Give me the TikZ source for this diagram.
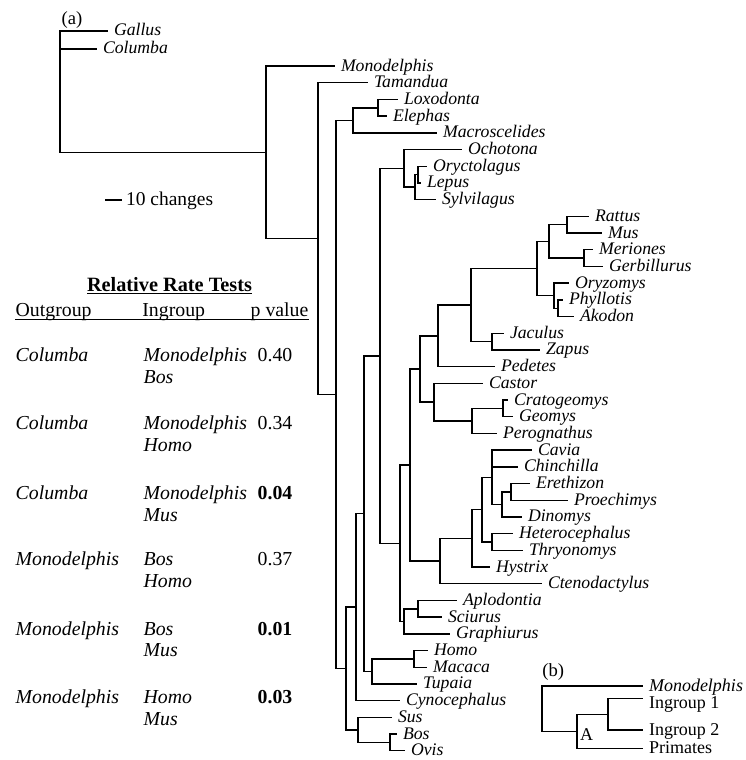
\documentclass[tikz,border=0pt]{standalone}
\usepackage{fontspec}
\setmainfont{Liberation Serif}

\begin{document}
\begin{tikzpicture}[x=1pt,y=-1pt,line width=1.4pt,
    taxon/.style={font=\fontsize{17.7}{20}\selectfont\itshape,anchor=west,inner xsep=6pt,inner ysep=0pt,outer sep=0pt,text height=10pt,text depth=0pt},
    tiplabel/.style={taxon,font=\fontsize{18}{20}\selectfont},
    rowtext/.style={font=\fontsize{19.8}{22}\selectfont,anchor=base west,inner sep=0pt}]
    \useasboundingbox (0,0) rectangle (745,760);
    % (a) tree
    \node[rowtext,font=\fontsize{18.6}{20}\selectfont] (panela) at (61,25) {(a)};
    \node[taxon] (gallus) at (108,31) {Gallus};
    \node[taxon] (columba) at (97,49) {Columba};
    \node[taxon] (monodelphis) at (335,66) {Monodelphis};
    \node[taxon] (tamandua) at (368,82.7) {Tamandua};
    \node[taxon] (loxodonta) at (398,99.4) {Loxodonta};
    \node[taxon] (elephas) at (387,116.1) {Elephas};
    \node[taxon] (macroscelides) at (437,132.8) {Macroscelides};
    \node[taxon] (ochotona) at (462,149.5) {Ochotona};
    \node[taxon] (oryctolagus) at (427,166.2) {Oryctolagus};
    \node[taxon] (lepus) at (421,182.9) {Lepus};
    \node[taxon] (sylvilagus) at (436,199.6) {Sylvilagus};
    \node[taxon] (rattus) at (589,216.3) {Rattus};
    \node[taxon] (mus) at (602,233) {Mus};
    \node[taxon] (meriones) at (593,249.7) {Meriones};
    \node[taxon] (gerbillurus) at (603,266.4) {Gerbillurus};
    \node[taxon] (oryzomys) at (569,283.1) {Oryzomys};
    \node[taxon] (phyllotis) at (563,299.8) {Phyllotis};
    \node[taxon] (akodon) at (574,316.5) {Akodon};
    \node[taxon] (jaculus) at (504,333.2) {Jaculus};
    \node[taxon] (zapus) at (540,349.9) {Zapus};
    \node[taxon] (pedetes) at (495,366.6) {Pedetes};
    \node[taxon] (castor) at (483,383.3) {Castor};
    \node[taxon] (cratogeomys) at (508,400) {Cratogeomys};
    \node[taxon] (geomys) at (513,416.7) {Geomys};
    \node[taxon] (perognathus) at (497,433.4) {Perognathus};
    \node[taxon] (cavia) at (532,450.1) {Cavia};
    \node[taxon] (chinchilla) at (518,466.8) {Chinchilla};
    \node[taxon] (erethizon) at (530,483.5) {Erethizon};
    \node[taxon] (proechimys) at (568,500.2) {Proechimys};
    \node[taxon] (dinomys) at (522,516.9) {Dinomys};
    \node[taxon] (heterocephalus) at (513,533.6) {Heterocephalus};
    \node[taxon] (thryonomys) at (523,550.3) {Thryonomys};
    \node[taxon] (hystrix) at (490,567) {Hystrix};
    \node[taxon] (ctenodactylus) at (542,583.7) {Ctenodactylus};
    \node[taxon] (aplodontia) at (457,600.4) {Aplodontia};
    \node[taxon] (sciurus) at (442,617.1) {Sciurus};
    \node[taxon] (graphiurus) at (450,633.8) {Graphiurus};
    \node[taxon] (homo) at (428,650.5) {Homo};
    \node[taxon] (macaca) at (427,667.2) {Macaca};
    \node[taxon] (tupaia) at (417,683.9) {Tupaia};
    \node[taxon] (cynocephalus) at (400,700.6) {Cynocephalus};
    \node[taxon] (sus) at (392,717.3) {Sus};
    \node[taxon] (bos) at (397,734) {Bos};
    \node[taxon] (ovis) at (405,750.7) {Ovis};
    % internal nodes
    \coordinate (root) at (60,91);
    \coordinate (mammalia) at (266,152.3);
    \coordinate (eutheria) at (318,238.6);
    \coordinate (placental) at (336,394.4);
    \coordinate (afro) at (353,120.3);
    \coordinate (elephantid) at (378,107.8);
    \coordinate (boreo) at (346,668.5);
    \coordinate (artio) at (358,730);
    \coordinate (bovid) at (390,742.4);
    \coordinate (euarch) at (356,607.1);
    \coordinate (supra) at (364,513.6);
    \coordinate (primtup) at (372,671.4);
    \coordinate (primates) at (414,658.9);
    \coordinate (glires) at (380,355.8);
    \coordinate (lago) at (404,168.3);
    \coordinate (leporid) at (415,187.1);
    \coordinate (oryle) at (418,174.6);
    \coordinate (rodentia) at (400,543.2);
    \coordinate (sciuro) at (404,621.3);
    \coordinate (aplsci) at (418,608.8);
    \coordinate (rodcore) at (410,465);
    \coordinate (castormouse) at (420,369);
    \coordinate (myopedetes) at (438,335.8);
    \coordinate (myodonta) at (471,305.1);
    \coordinate (muroid) at (537,268.5);
    \coordinate (murinae) at (549,241.4);
    \coordinate (ratmus) at (567,224.7);
    \coordinate (gerbil) at (584,258.1);
    \coordinate (sigmo) at (554,295.7);
    \coordinate (phylak) at (558,308.2);
    \coordinate (dipodid) at (492,341.6);
    \coordinate (castorimorph) at (434,402.1);
    \coordinate (geomyoid) at (472,420.9);
    \coordinate (geomyid) at (503,408.4);
    \coordinate (ctenohys) at (440,561);
    \coordinate (hystricid) at (472,538.3);
    \coordinate (hystricog) at (482,509.6);
    \coordinate (cavio) at (492,477.3);
    \coordinate (octodont) at (502,504.4);
    \coordinate (erepro) at (511,491.9);
    \coordinate (phiom) at (492,542);
    % branches
    \draw (root) |- (gallus) (root) |- (columba) (root) |- (mammalia);
    \draw (mammalia) |- (monodelphis) (mammalia) |- (eutheria);
    \draw (eutheria) |- (tamandua) (eutheria) |- (placental);
    \draw (placental) |- (afro) (placental) |- (boreo);
    \draw (afro) |- (elephantid) (afro) |- (macroscelides);
    \draw (elephantid) |- (loxodonta) (elephantid) |- (elephas);
    \draw (boreo) |- (euarch) (boreo) |- (artio);
    \draw (artio) |- (sus) (artio) |- (bovid);
    \draw (bovid) |- (bos) (bovid) |- (ovis);
    \draw (euarch) |- (supra) (euarch) |- (cynocephalus);
    \draw (supra) |- (glires) (supra) |- (primtup);
    \draw (primtup) |- (primates) (primtup) |- (tupaia);
    \draw (primates) |- (homo) (primates) |- (macaca);
    \draw (glires) |- (lago) (glires) |- (rodentia);
    \draw (lago) |- (ochotona) (lago) |- (leporid);
    \draw (leporid) |- (oryle) (leporid) |- (sylvilagus);
    \draw (oryle) |- (oryctolagus) (oryle) |- (lepus);
    \draw (rodentia) |- (rodcore) (rodentia) |- (sciuro);
    \draw (sciuro) |- (aplsci) (sciuro) |- (graphiurus);
    \draw (aplsci) |- (aplodontia) (aplsci) |- (sciurus);
    \draw (rodcore) |- (castormouse) (rodcore) |- (ctenohys);
    \draw (castormouse) |- (myopedetes) (castormouse) |- (castorimorph);
    \draw (myopedetes) |- (myodonta) (myopedetes) |- (pedetes);
    \draw (myodonta) |- (muroid) (myodonta) |- (dipodid);
    \draw (muroid) |- (murinae) (muroid) |- (sigmo);
    \draw (murinae) |- (ratmus) (murinae) |- (gerbil);
    \draw (ratmus) |- (rattus) (ratmus) |- (mus);
    \draw (gerbil) |- (meriones) (gerbil) |- (gerbillurus);
    \draw (sigmo) |- (oryzomys) (sigmo) |- (phylak);
    \draw (phylak) |- (phyllotis) (phylak) |- (akodon);
    \draw (dipodid) |- (jaculus) (dipodid) |- (zapus);
    \draw (castorimorph) |- (castor) (castorimorph) |- (geomyoid);
    \draw (geomyoid) |- (geomyid) (geomyoid) |- (perognathus);
    \draw (geomyid) |- (cratogeomys) (geomyid) |- (geomys);
    \draw (ctenohys) |- (hystricid) (ctenohys) |- (ctenodactylus);
    \draw (hystricid) |- (hystricog) (hystricid) |- (hystrix);
    \draw (hystricog) |- (cavio) (hystricog) |- (phiom);
    \draw (cavio) |- (cavia) (cavio) |- (chinchilla) (cavio) |- (octodont);
    \draw (octodont) |- (erepro) (octodont) |- (dinomys);
    \draw (erepro) |- (erethizon) (erepro) |- (proechimys);
    \draw (phiom) |- (heterocephalus) (phiom) |- (thryonomys);
    % scale bar
    \coordinate (bar) at (105,200);
    \node[tiplabel,inner xsep=4pt,font=\fontsize{19.5}{22}\selectfont] (changes) at (122,200) {10 changes};
    \draw (bar) -- (changes);
    % relative rate tests
    \node[rowtext,anchor=base,font=\fontsize{20.3}{22}\selectfont\bfseries] (title) at (169.5,291.7) {\underline{Relative Rate Tests}};
    \node[rowtext] (hdrout) at (15,316.7) {Outgroup};
    \node[rowtext] (hdrin) at (141.7,316.7) {Ingroup};
    \node[rowtext] (hdrp) at (250,316.7) {p value};
    \draw[line width=1pt] ([yshift=-2.7pt]hdrout.base west) -- ([yshift=-2.7pt]hdrp.base east);
    \node[rowtext] (out1) at (15,361.7) {\itshape Columba};
    \node[rowtext] (ina1) at (143,361.7) {\itshape Monodelphis};
    \node[rowtext] (inb1) at (143,383.4) {\itshape Bos};
    \node[rowtext] (pv1) at (257,361.7) {0.40};
    \node[rowtext] (out2) at (15,429.5) {\itshape Columba};
    \node[rowtext] (ina2) at (143,429.5) {\itshape Monodelphis};
    \node[rowtext] (inb2) at (143,451.7) {\itshape Homo};
    \node[rowtext] (pv2) at (257,429.5) {0.34};
    \node[rowtext] (out3) at (15,499) {\itshape Columba};
    \node[rowtext] (ina3) at (143,499) {\itshape Monodelphis};
    \node[rowtext] (inb3) at (143,521) {\itshape Mus};
    \node[rowtext] (pv3) at (257,499) {\bfseries 0.04};
    \node[rowtext] (out4) at (15,565) {\itshape Monodelphis};
    \node[rowtext] (ina4) at (143,565) {\itshape Bos};
    \node[rowtext] (inb4) at (143,587) {\itshape Homo};
    \node[rowtext] (pv4) at (257,565) {0.37};
    \node[rowtext] (out5) at (15,635) {\itshape Monodelphis};
    \node[rowtext] (ina5) at (143,635) {\itshape Bos};
    \node[rowtext] (inb5) at (143,656.7) {\itshape Mus};
    \node[rowtext] (pv5) at (257,635) {\bfseries 0.01};
    \node[rowtext] (out6) at (15,703.3) {\itshape Monodelphis};
    \node[rowtext] (ina6) at (143,703.3) {\itshape Homo};
    \node[rowtext] (inb6) at (143,725) {\itshape Mus};
    \node[rowtext] (pv6) at (257,703.3) {\bfseries 0.03};
    % (b) tree
    \node[rowtext,font=\fontsize{18.6}{20}\selectfont] (panelb) at (541.7,676.7) {(b)};
    \node[taxon,font=\fontsize{18}{20}\selectfont\itshape] (bmono) at (643,686) {Monodelphis};
    \node[tiplabel,text height=21pt] (bin1) at (643,698.3) {Ingroup 1};
    \node[tiplabel] (bin2) at (643,730) {Ingroup 2};
    \node[tiplabel] (bprim) at (643,748.3) {Primates};
    \coordinate (broot) at (542,709.5);
    \coordinate (bnodea) at (577,731.3);
    \coordinate (bingroup) at (608,714.2);
    \draw (broot) |- (bmono) (broot) |- (bnodea);
    \draw (bnodea) |- (bingroup) (bnodea) |- (bprim);
    \draw (bingroup) |- (bin1) (bingroup) |- (bin2);
    \node[rowtext,font=\fontsize{18}{20}\selectfont] (alabel) at (579.5,740) {A};
\end{tikzpicture}
\end{document}
